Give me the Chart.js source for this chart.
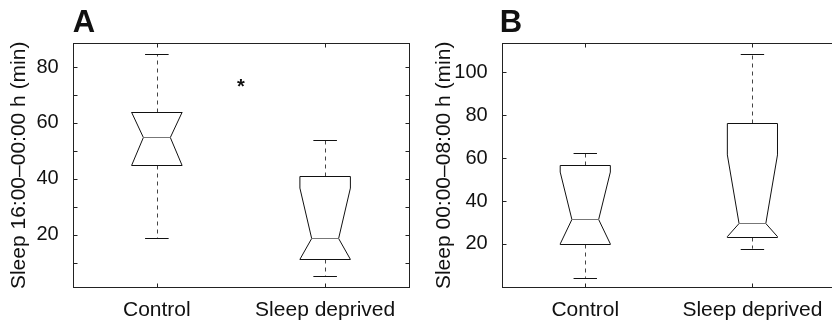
<!DOCTYPE html>
<html>
<head>
<meta charset="utf-8">
<script src="https://cdn.jsdelivr.net/npm/chart.js@4.4.1/dist/chart.umd.min.js"></script>
<style>
  body { margin: 0; background: #fff; overflow: hidden; width: 832px; height: 323px; position: relative; }
  .panel { position: absolute; top: 0; }
</style>
</head>
<body>
<div class="panel" style="left:0"><canvas id="chartA" width="416" height="323"></canvas></div>
<div class="panel" style="left:416px"><canvas id="chartB" width="440" height="323"></canvas></div>
<script>
const categories = ["Control", "Sleep deprived"];

// A - sleep between 16:00 and 00:00 (min)
const eveLowWhisker = [18.8, 5.1];
const eveQ1 = [44.8, 11.2];
const eveMedian = [55.0, 18.7];
const eveQ3 = [63.8, 41.0];
const eveHighWhisker = [84.6, 53.8];
const eveNotchLow = [44.8, 11.2];
const eveNotchHigh = [63.8, 36.7];
const eveTicks = [10, 20, 30, 40, 50, 60, 70, 80];
const eveTickLabels = [20, 40, 60, 80];
const eveRange = [1.2, 88.5];
const eveStar = [1.5, 74.3];

// B - sleep between 00:00 and 08:00 (min)
const nightLowWhisker = [4.2, 17.8];
const nightQ1 = [20.0, 23.4];
const nightMedian = [31.4, 29.6];
const nightQ3 = [56.7, 76.4];
const nightHighWhisker = [62.5, 108.4];
const nightNotchLow = [20.0, 23.4];
const nightNotchHigh = [53.5, 61.5];
const nightTicks = [20, 40, 60, 80, 100];
const nightTickLabels = [20, 40, 60, 80, 100];
const nightRange = [-0.2, 113.5];

const BOX_HALF = 0.15;
const NOTCH_HALF = 0.08;
const CAP_HALF = 0.07;

Chart.defaults.font.family = '"Liberation Sans", Arial, Helvetica, sans-serif';
Chart.defaults.color = '#111';

function crisp(v) { return Math.round(v) + 0.5; }

function boxPlugin(s) {
	return {
		id: 'notchBoxes',
		afterDatasetsDraw(chart) {
			const ctx = chart.ctx;
			const xs = chart.scales.x, ys = chart.scales.y;
			const area = chart.chartArea;
			const px = v => xs.getPixelForValue(v);
			const py = v => ys.getPixelForValue(v);
			ctx.save();
			ctx.lineWidth = 1;

			// frame + inward ticks
			ctx.strokeStyle = '#222';
			const L = crisp(area.left), R = crisp(area.right), T = crisp(area.top), B = crisp(area.bottom);
			ctx.strokeRect(L, T, R - L, B - T);
			ctx.beginPath();
			s.ticks.forEach(v => {
				const y = crisp(py(v));
				ctx.moveTo(L, y); ctx.lineTo(L + 4, y);
				ctx.moveTo(R, y); ctx.lineTo(R - 4, y);
			});
			categories.forEach((c, i) => {
				const x = crisp(px(i + 1));
				ctx.moveTo(x, B); ctx.lineTo(x, B - 4);
				ctx.moveTo(x, T); ctx.lineTo(x, T + 4);
			});
			ctx.stroke();

			categories.forEach((c, i) => {
				const xc = i + 1;
				const bl = px(xc - BOX_HALF), br = px(xc + BOX_HALF);
				const nl = px(xc - NOTCH_HALF), nr = px(xc + NOTCH_HALF);
				const q1 = crisp(py(s.q1[i])), q3 = crisp(py(s.q3[i])), med = crisp(py(s.median[i]));
				const nLo = py(s.notchLow[i]), nHi = py(s.notchHigh[i]);
				const mid = crisp(px(xc));

				// whiskers
				ctx.strokeStyle = '#444';
				ctx.setLineDash([4, 4]);
				ctx.beginPath();
				ctx.moveTo(mid, q3); ctx.lineTo(mid, py(s.high[i]));
				ctx.moveTo(mid, q1); ctx.lineTo(mid, py(s.low[i]));
				ctx.stroke();
				ctx.setLineDash([]);
				ctx.strokeStyle = '#111';
				ctx.beginPath();
				[s.high[i], s.low[i]].forEach(v => {
					const y = crisp(py(v));
					ctx.moveTo(px(xc - CAP_HALF), y); ctx.lineTo(px(xc + CAP_HALF), y);
				});
				ctx.stroke();

				// notched box
				ctx.beginPath();
				ctx.moveTo(bl, q3); ctx.lineTo(br, q3); ctx.lineTo(br, nHi);
				ctx.lineTo(nr, med); ctx.lineTo(br, nLo); ctx.lineTo(br, q1);
				ctx.lineTo(bl, q1); ctx.lineTo(bl, nLo); ctx.lineTo(nl, med);
				ctx.lineTo(bl, nHi); ctx.closePath();
				ctx.stroke();

				// median
				ctx.strokeStyle = '#777';
				ctx.beginPath();
				ctx.moveTo(nl, med); ctx.lineTo(nr, med);
				ctx.stroke();
			});

			// significance star
			if (s.star) {
				ctx.fillStyle = '#111';
				ctx.font = 'bold 20px "Liberation Sans", Arial, sans-serif';
				ctx.textAlign = 'center';
				ctx.textBaseline = 'alphabetic';
				const m = ctx.measureText('*');
				const off = (m.actualBoundingBoxAscent - m.actualBoundingBoxDescent) / 2;
				ctx.fillText('*', px(s.star[0]), py(s.star[1]) + off);
			}

			// panel letter
			ctx.fillStyle = '#111';
			ctx.font = 'bold 31px "Liberation Sans", Arial, sans-serif';
			ctx.textAlign = 'left';
			ctx.textBaseline = 'alphabetic';
			ctx.fillText(s.letter, area.left + s.letterDx, 32);
			ctx.restore();
		}
	};
}

function makeChart(id, s) {
	return new Chart(document.getElementById(id), {
		type: 'scatter',
		data: { datasets: [{ data: [] }] },
		options: {
			responsive: false,
			animation: false,
			events: [],
			layout: { padding: { top: 43.3, right: s.padRight, bottom: 0, left: 0 } },
			plugins: { legend: { display: false }, tooltip: { enabled: false } },
			scales: {
				x: {
					type: 'linear',
					min: 0.5,
					max: 2.5,
					afterBuildTicks: axis => { axis.ticks = categories.map((c, i) => ({ value: i + 1 })); },
					afterFit: axis => { axis.height = 35.7; },
					grid: { display: false },
					border: { display: false },
					ticks: {
						autoSkip: false,
						maxRotation: 0,
						padding: 2,
						font: { size: 21 },
						callback: v => categories[v - 1] || ''
					}
				},
				y: {
					type: 'linear',
					min: s.range[0],
					max: s.range[1],
					afterBuildTicks: axis => { axis.ticks = s.ticks.map(v => ({ value: v })); },
					afterFit: axis => { axis.width = s.axisWidth; },
					grid: { display: false },
					border: { display: false },
					ticks: {
						padding: 6,
						font: { size: 20 },
						callback: v => s.tickLabels.includes(v) ? String(v) : ''
					},
					title: {
						display: true,
						text: s.title,
						font: { size: 21 },
						padding: { top: s.titlePad, bottom: 0 }
					}
				}
			}
		},
		plugins: [boxPlugin(s)]
	});
}

makeChart('chartA', {
	letter: 'A', letterDx: 0,
	title: 'Sleep 16:00\u201300:00 h (min)',
	low: eveLowWhisker, q1: eveQ1, median: eveMedian, q3: eveQ3, high: eveHighWhisker,
	notchLow: eveNotchLow, notchHigh: eveNotchHigh,
	ticks: eveTicks, tickLabels: eveTickLabels, range: eveRange, star: eveStar,
	axisWidth: 72.7, padRight: 6.7, titlePad: 7
});

makeChart('chartB', {
	letter: 'B', letterDx: -2,
	title: 'Sleep 00:00\u201308:00 h (min)',
	low: nightLowWhisker, q1: nightQ1, median: nightMedian, q3: nightQ3, high: nightHighWhisker,
	notchLow: nightNotchLow, notchHigh: nightNotchHigh,
	ticks: nightTicks, tickLabels: nightTickLabels, range: nightRange, star: null,
	axisWidth: 85.7, padRight: 20, titlePad: 16
});
</script>
</body>
</html>
